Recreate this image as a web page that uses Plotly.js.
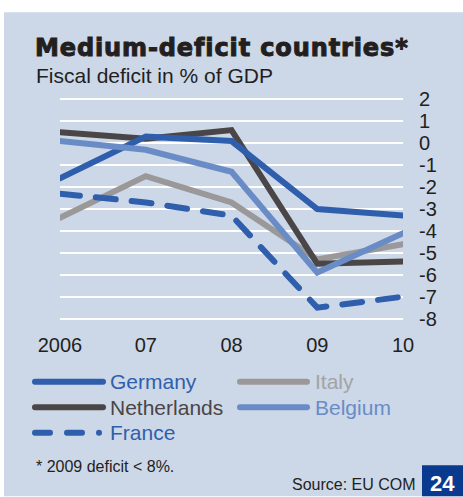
<!DOCTYPE html>
<html>
<head>
<meta charset="utf-8">
<script src="https://cdn.plot.ly/plotly-3.0.1.min.js"></script>
<style>
html,body{margin:0;padding:0;background:#fff;}
#chart{width:463px;height:497px;}
.scatterlayer .js-line{stroke-linecap:round !important;}
.shapelayer path{stroke-linecap:round !important;}
.gtitle{stroke:#231f20;stroke-width:1px;letter-spacing:0.88px;}
</style>
</head>
<body>
<div id="chart"></div>
<script>
// ---- data ----
var years = [2006, 2007, 2008, 2009, 2010];
var yearLabels = ["2006", "07", "08", "09", "10"];
var germany = [-1.6, 0.3, 0.1, -3.0, -3.3];
var netherlands = [0.5, 0.2, 0.6, -5.5, -5.4];
var italy = [-3.4, -1.5, -2.7, -5.3, -4.6];
var belgium = [0.1, -0.3, -1.3, -5.9, -4.1];
var france = [-2.3, -2.7, -3.3, -7.5, -7.0];
var yTicks = [2, 1, 0, -1, -2, -3, -4, -5, -6, -7, -8];
var yTickLabels = ["2", "1", "0", "-1", "-2", "-3", "-4", "-5", "-6", "-7", "-8"];

// ---- styles ----
var C = {
  germany: "#2f5fac", netherlands: "#4a4546", italy: "#9a9898",
  belgium: "#6a8cc6", france: "#2f5fac", text: "#231f20",
  panel: "#ccd7e8", badge: "#0a3a8e", italyText: "#a3a3a3"
};
var W = 463, H = 497;
var M = {l: 60, r: 60, t: 95, b: 173.6};
var pw = W - M.l - M.r, ph = H - M.t - M.b;
function px(x) { return (x - M.l) / pw; }
function py(y) { return (H - M.b - y) / ph; }

function tr(y, name, color, dash) {
  return {x: years, y: y, name: name, type: "scatter", mode: "lines",
    line: {color: color, width: 6, dash: dash || "solid"}, hoverinfo: "skip"};
}
var data = [
  tr(italy, "Italy", C.italy),
  tr(netherlands, "Netherlands", C.netherlands),
  tr(germany, "Germany", C.germany),
  tr(belgium, "Belgium", C.belgium),
  tr(france, "France", C.france, "20px,16px")
];

var shapes = [
  {type: "rect", xref: "paper", yref: "paper", x0: px(4), x1: px(463), y0: py(12), y1: py(497),
   fillcolor: C.panel, line: {width: 0}, layer: "below"},
  {type: "rect", xref: "paper", yref: "paper", x0: px(422), x1: px(463), y0: py(466), y1: py(497),
   fillcolor: C.badge, line: {width: 0}, layer: "above"}
];
function legLine(x0, x1, y, color) {
  shapes.push({type: "line", xref: "paper", yref: "paper", x0: px(x0), x1: px(x1), y0: py(y), y1: py(y),
    line: {color: color, width: 6}});
}
legLine(35, 103, 382.3, C.germany);
legLine(240, 307, 382.3, C.italy);
legLine(35, 103, 407.7, C.netherlands);
legLine(240, 307, 407.7, C.belgium);
legLine(35, 50, 433.3, C.france);
legLine(67, 82, 433.3, C.france);
shapes.push({type: "circle", xref: "paper", yref: "paper", x0: px(96), x1: px(102), y0: py(430.3), y1: py(436.3),
  fillcolor: C.france, line: {width: 0}});

function ann(text, x, y, size, color, xanchor) {
  return {text: text, xref: "paper", yref: "paper", x: px(x), y: py(y), xanchor: xanchor || "left",
    yanchor: "middle", showarrow: false, font: {family: "Liberation Sans, Arial, sans-serif", size: size, color: color}};
}
var annotations = [
  ann("Fiscal deficit in % of GDP", 34, 75, 21, C.text),
  ann("Germany", 108, 382.3, 21, C.germany),
  ann("Italy", 313, 382.3, 21, C.italyText),
  ann("Netherlands", 108, 407.7, 21, C.netherlands),
  ann("Belgium", 313, 407.7, 21, C.belgium),
  ann("France", 108, 433.3, 21, C.france),
  ann("* 2009 deficit &lt; 8%.", 34, 467, 16, C.text),
  ann("Source: EU COM", 418, 485, 16, C.text, "right"),
  ann("<b>24</b>", 442.5, 484, 22, "#ffffff", "center")
];

var layout = {
  width: W, height: H,
  margin: M,
  paper_bgcolor: "#ffffff", plot_bgcolor: "rgba(0,0,0,0)",
  showlegend: false,
  title: {text: "Medium-deficit countries*", x: 35 / W, xanchor: "left", xref: "container",
    y: 1 - 48 / H, yanchor: "middle", yref: "container",
    font: {family: "DejaVu Sans, sans-serif", size: 24, weight: "bold", color: C.text}},
  xaxis: {range: [2006, 2010], tickvals: years, ticktext: yearLabels, showgrid: false, zeroline: false,
    showline: false, ticks: "", ticklabelstandoff: 8,
    tickfont: {family: "Liberation Sans, Arial, sans-serif", size: 20, color: C.text}},
  yaxis: {range: [-8.2, 2.2], side: "right", tickvals: yTicks, ticktext: yTickLabels,
    showgrid: true, gridcolor: "#ffffff", gridwidth: 2, zeroline: false, showline: false, ticks: "",
    ticklabelstandoff: 15,
    tickfont: {family: "Liberation Sans, Arial, sans-serif", size: 20, color: C.text}},
  shapes: shapes,
  annotations: annotations
};
Plotly.newPlot("chart", data, layout, {displayModeBar: false, staticPlot: true});
</script>
</body>
</html>
